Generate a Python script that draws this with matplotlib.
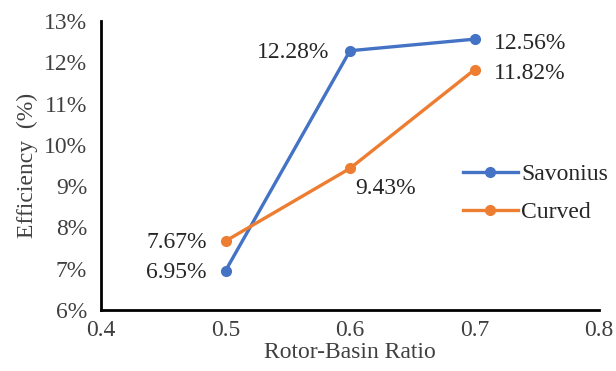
import matplotlib
matplotlib.use("Agg")
import matplotlib.pyplot as plt
from matplotlib.ticker import FuncFormatter

plt.rcParams['font.family'] = ['Liberation Serif', 'DejaVu Serif']

ratios = [0.5, 0.6, 0.7]
savonius = [6.95, 12.28, 12.56]
curved = [7.67, 9.43, 11.82]
series_names = ["Savonius", "Curved"]

FS = 17
fig = plt.figure(figsize=(6.16, 3.71), dpi=100)
ax = fig.add_axes([101/616, 1-310/371, (599-101)/616, (310-21)/371])

blue = "#4472C4"
orange = "#ED7D31"
ax.plot(ratios, savonius, color=blue, lw=2.4, marker='o', ms=7, label=series_names[0], clip_on=False)
ax.plot(ratios, curved, color=orange, lw=2.4, marker='o', ms=7, label=series_names[1], clip_on=False)

ax.set_xlim(0.4, 0.8)
ax.set_ylim(6, 13)
ax.set_xticks([0.4, 0.5, 0.6, 0.7, 0.8])
ax.set_yticks(range(6, 14))
ax.yaxis.set_major_formatter(FuncFormatter(lambda v, p: f"{int(v)}%"))
ax.xaxis.set_major_formatter(FuncFormatter(lambda v, p: f"{v:.1f}"))
ax.tick_params(length=0, labelsize=FS, colors='#404040', pad=7)
ax.tick_params(axis='y', pad=10)
for s in ['top', 'right']:
    ax.spines[s].set_visible(False)
for s in ['left', 'bottom']:
    ax.spines[s].set_linewidth(2.0)
ax.set_xlabel("Rotor-Basin Ratio", fontsize=FS, labelpad=1, color='#404040')
ax.set_ylabel("Efficiency  (%)", fontsize=FS, labelpad=4, color='#404040')

def lab(x, y, dx, dy, ha, va='center'):
    ax.annotate(f"{y:.2f}%", (x, y), xytext=(dx, dy), textcoords='offset pixels',
                ha=ha, va=va, fontsize=FS, color='#262626')

lab(ratios[0], savonius[0], -19, -2, 'right')
lab(ratios[1], savonius[1], -21, -2, 'right')
lab(ratios[2], savonius[2], 19, -4, 'left')
lab(ratios[0], curved[0], -19, -1, 'right')
lab(ratios[1], curved[1], 5, -20, 'left')
lab(ratios[2], curved[2], 19, -4, 'left')

leg = ax.legend(loc='upper left', bbox_to_anchor=(442/616, 1-142/371), bbox_transform=fig.transFigure,
                frameon=False, fontsize=FS, handlelength=2.3, labelspacing=0.7,
                handletextpad=0.15, labelcolor='#262626')

fig.savefig("out.png", dpi=100)
